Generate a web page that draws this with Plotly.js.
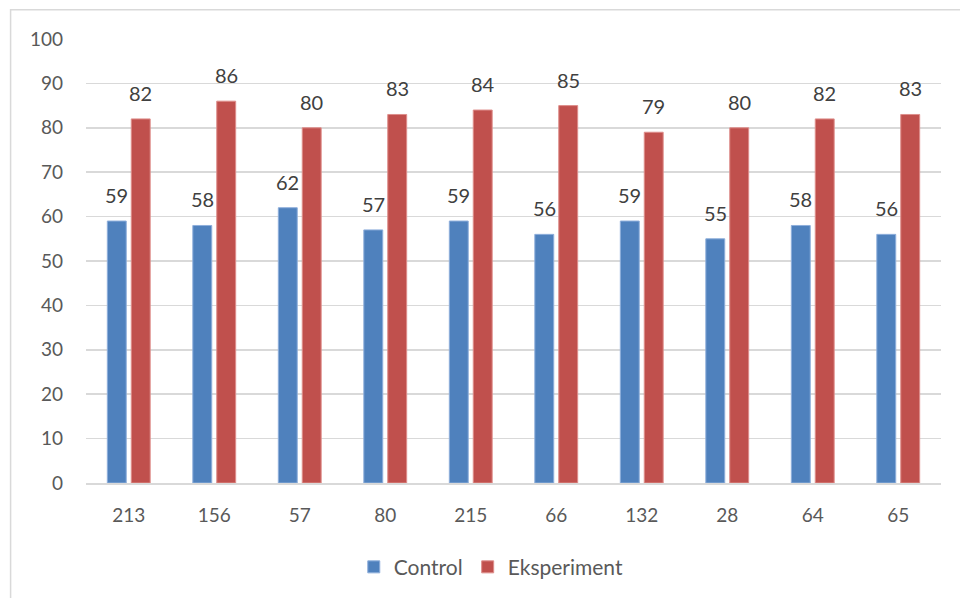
<!DOCTYPE html>
<html>
<head>
<meta charset="utf-8">
<script src="https://cdn.plot.ly/plotly-3.0.1.min.js"></script>
<style>html,body{margin:0;padding:0;background:#fff;}#chart{width:960px;height:598px;}</style>
</head>
<body>
<div id="chart"></div>
<script>
const categories = ["213", "156", "57", "80", "215", "66", "132", "28", "64", "65"];
const controlValues = [59, 58, 62, 57, 59, 56, 59, 55, 58, 56];
const eksperimentValues = [82, 86, 80, 83, 84, 85, 79, 80, 82, 83];
const yTicks = [0, 10, 20, 30, 40, 50, 60, 70, 80, 90, 100];

const fontFam = "Lato, 'Open Sans', sans-serif";
const txtColor = "#404040";

const traces = [
  {
    type: "bar", name: "Control", x: categories, y: controlValues,
    marker: {color: "#4F81BD", line: {color: "#8EAEDB", width: 1}}
  },
  {
    type: "bar", name: "Eksperiment", x: categories, y: eksperimentValues,
    marker: {color: "#C0504D", line: {color: "#DE8E8B", width: 1}}
  }
];

const annotations = [];
categories.forEach((c, i) => {
  annotations.push({x: i, y: controlValues[i], xref: "x", yref: "y", text: String(controlValues[i]),
    showarrow: false, xshift: -12, yshift: 26, font: {family: fontFam, size: 20, color: txtColor}});
  annotations.push({x: i, y: eksperimentValues[i], xref: "x", yref: "y", text: String(eksperimentValues[i]),
    showarrow: false, xshift: 12, yshift: 26, font: {family: fontFam, size: 20, color: txtColor}});
});

const layout = {
  width: 960, height: 598,
  paper_bgcolor: "#fff", plot_bgcolor: "#fff",
  margin: {l: 86, r: 19, t: 39, b: 114},
  barmode: "group", bargap: 0.44, bargroupgap: 0.21,
  font: {family: fontFam, size: 19, color: "#595959"},
  xaxis: {
    type: "category", categoryorder: "array", categoryarray: categories,
    range: [-0.5, categories.length - 0.5], autorange: false,
    showgrid: false, zeroline: false,
    showline: true, linecolor: "#D9D9D9", linewidth: 1.5,
    ticks: "", ticklen: 0, ticklabelstandoff: 15, tickangle: 0,
    tickfont: {family: fontFam, size: 19, color: "#595959"}
  },
  yaxis: {
    range: [0, 100], autorange: false, tickvals: yTicks, ticktext: yTicks.map(String),
    showgrid: true, gridcolor: "#D9D9D9", gridwidth: 1.5, zeroline: false,
    showline: false, ticks: "", ticklabelstandoff: 22,
    tickfont: {family: fontFam, size: 19, color: "#595959"}
  },
  showlegend: true,
  legend: {
    orientation: "h", x: 0.474, xanchor: "center", y: -0.187, yanchor: "middle",
    font: {family: fontFam, size: 21, color: "#595959"},
    itemwidth: 30, traceorder: "normal"
  },
  annotations: annotations,
  shapes: [{
    type: "rect", xref: "paper", yref: "paper",
    x0: -0.0882, x1: 1.2, y0: -1, y1: 1.066,
    line: {color: "#D9D9D9", width: 1.5}, fillcolor: "rgba(0,0,0,0)", layer: "below"
  }]
};

Plotly.newPlot("chart", traces, layout, {displayModeBar: false, staticPlot: true});
</script>
</body>
</html>
